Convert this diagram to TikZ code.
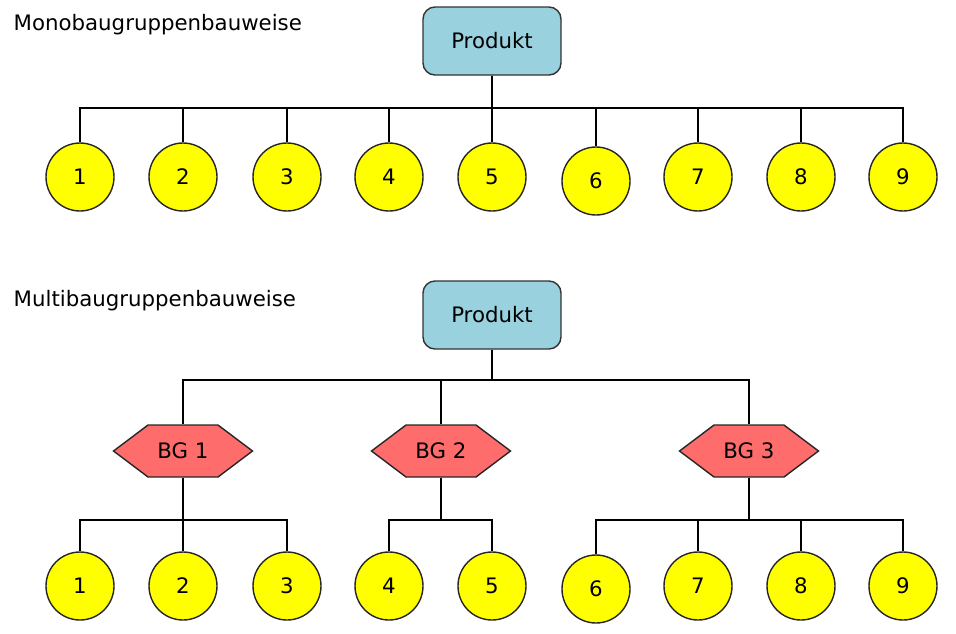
\documentclass[tikz,border=0pt]{standalone}
\usepackage{fontspec}
\setmainfont{DejaVu Sans}
\usetikzlibrary{shapes.symbols}
\definecolor{prodblue}{RGB}{153,209,222}
\definecolor{bgred}{RGB}{255,108,108}
\definecolor{partyellow}{RGB}{255,255,0}
\begin{document}
\begin{tikzpicture}[x=1pt,y=-1pt,line width=1.4pt,
    every node/.style={font=\fontsize{21.3}{25}\selectfont},
    prod/.style={draw=black!80,fill=prodblue,rounded corners=12pt,
        minimum width=138pt,minimum height=68pt},
    part/.style={circle,draw=black!85,fill=partyellow,minimum size=68pt,
        inner sep=0pt},
    bg/.style={signal,signal to=west and east,signal pointer angle=74,
        draw=black!85,fill=bgred,minimum width=139pt,minimum height=52pt},
    title/.style={anchor=base west,inner sep=0pt}]
  \useasboundingbox (0,0) rectangle (956,633);
  % Monobaugruppenbauweise
  \node[title] (t1) at (13,30) {Monobaugruppenbauweise};
  \node[prod] (p1) at (492,41) {Produkt};
  \coordinate (bar1) at (492,108);
  \foreach \i/\x/\y in {1/80/177,2/183/177,3/287/177,4/389/177,5/492/177,
      6/596/181,7/698/177,8/801/177,9/903/177}
    \node[part] (a\i) at (\x,\y) {\i};
  \foreach \i in {1,...,9}
    \draw (p1) -- (bar1) -| (a\i);
  % Multibaugruppenbauweise
  \node[title] (t2) at (13,306) {Multibaugruppenbauweise};
  \node[prod] (p2) at (492,315) {Produkt};
  \coordinate (bar2) at (492,380);
  \node[bg] (g1) at (183,451) {BG 1};
  \node[bg] (g2) at (441,451) {BG 2};
  \node[bg] (g3) at (749,451) {BG 3};
  \foreach \j in {1,2,3}
    \draw (p2) -- (bar2) -| (g\j);
  \foreach \i/\x/\y in {1/80/586,2/183/586,3/287/586,4/389/586,5/492/586,
      6/596/589,7/698/586,8/801/586,9/903/586}
    \node[part] (b\i) at (\x,\y) {\i};
  \coordinate (bar3) at (183,520);
  \coordinate (bar4) at (441,520);
  \coordinate (bar5) at (749,520);
  \foreach \i in {1,2,3}
    \draw (g1) -- (bar3) -| (b\i);
  \foreach \i in {4,5}
    \draw (g2) -- (bar4) -| (b\i);
  \foreach \i in {6,...,9}
    \draw (g3) -- (bar5) -| (b\i);
\end{tikzpicture}
\end{document}
